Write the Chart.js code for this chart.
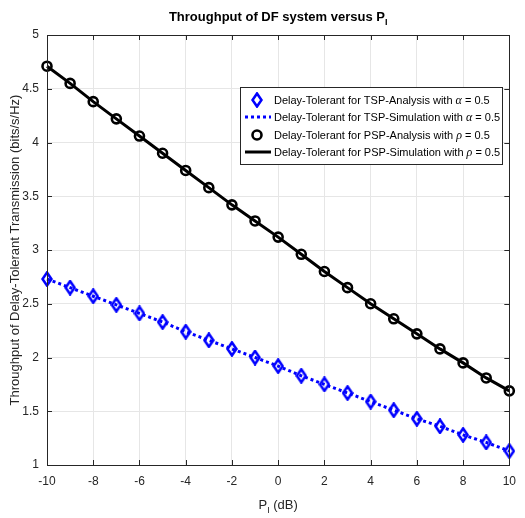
<!DOCTYPE html>
<html>
<head>
<meta charset="utf-8">
<script src="https://cdn.jsdelivr.net/npm/chart.js@4.4.1/dist/chart.umd.min.js"></script>
<style>
  html, body { margin: 0; padding: 0; background: #fff; }
  canvas { display: block; }
</style>
</head>
<body>
<canvas id="myChart" width="525" height="518"></canvas>
<script>
// P_I in dB
const powerDb = [-10, -9, -8, -7, -6, -5, -4, -3, -2, -1, 0, 1, 2, 3, 4, 5, 6, 7, 8, 9, 10];
// throughput (bits/s/Hz)
const tspValues = [2.73, 2.65, 2.57, 2.49, 2.41, 2.33, 2.24, 2.16, 2.08, 2.00, 1.92, 1.83, 1.75, 1.67, 1.59, 1.51, 1.43, 1.36, 1.28, 1.21, 1.13];
const pspValues = [4.71, 4.55, 4.38, 4.22, 4.06, 3.90, 3.74, 3.58, 3.42, 3.27, 3.12, 2.96, 2.80, 2.65, 2.50, 2.36, 2.22, 2.08, 1.95, 1.81, 1.69];
const xTicks = [-10, -8, -6, -4, -2, 0, 2, 4, 6, 8, 10];
const yTicks = [1, 1.5, 2, 2.5, 3, 3.5, 4, 4.5, 5];
const legendLabels = [
  ['Delay-Tolerant for TSP-Analysis with ', '\u03b1', ' = 0.5'],
  ['Delay-Tolerant for TSP-Simulation with ', '\u03b1', ' = 0.5'],
  ['Delay-Tolerant for PSP-Analysis with ', '\u03c1', ' = 0.5'],
  ['Delay-Tolerant for PSP-Simulation with ', '\u03c1', ' = 0.5']
];

const axisColor = '#262626';
const blue = '#0000ff';
const sans = 'Liberation Sans, Arial, sans-serif';

// tall diamond marker like matlab's 'd'
function makeDiamond() {
  const c = document.createElement('canvas');
  c.width = 12; c.height = 16;
  const g = c.getContext('2d');
  g.strokeStyle = blue;
  g.lineWidth = 2.6;
  g.beginPath();
  g.moveTo(6, 1.5); g.lineTo(10.5, 8); g.lineTo(6, 14.5); g.lineTo(1.5, 8);
  g.closePath();
  g.stroke();
  return c;
}
const diamondImg = makeDiamond();

const pts = vals => powerDb.map((p, i) => ({ x: p, y: vals[i] }));

// text pieces with subscript, centered on cx
function drawPieces(ctx, pieces, cx, y, align) {
  let w = 0;
  pieces.forEach(p => { ctx.font = p.font; w += ctx.measureText(p.text).width; });
  let x = align === 'left' ? cx : cx - w / 2;
  ctx.textAlign = 'left';
  ctx.textBaseline = 'alphabetic';
  pieces.forEach(p => {
    ctx.font = p.font;
    ctx.fillText(p.text, x, y + (p.dy || 0));
    x += ctx.measureText(p.text).width;
  });
}

const matlabFrame = {
  id: 'matlabFrame',
  afterDraw(chart) {
    const { ctx, chartArea: a, scales: { x, y } } = chart;
    ctx.save();
    ctx.strokeStyle = axisColor;
    ctx.lineWidth = 1;
    ctx.strokeRect(Math.round(a.left) + 0.5, Math.round(a.top) + 0.5,
      Math.round(a.right - a.left), Math.round(a.bottom - a.top));
    ctx.beginPath();
    xTicks.forEach(v => {
      const px = Math.round(x.getPixelForValue(v)) + 0.5;
      ctx.moveTo(px, a.bottom); ctx.lineTo(px, a.bottom - 5);
      ctx.moveTo(px, a.top); ctx.lineTo(px, a.top + 5);
    });
    yTicks.forEach(v => {
      const py = Math.round(y.getPixelForValue(v)) + 0.5;
      ctx.moveTo(a.left, py); ctx.lineTo(a.left + 5, py);
      ctx.moveTo(a.right, py); ctx.lineTo(a.right - 5, py);
    });
    ctx.stroke();

    const cx = (a.left + a.right) / 2;
    ctx.fillStyle = '#000';
    drawPieces(ctx, [
      { text: 'Throughput of DF system versus P', font: 'bold 13px ' + sans },
      { text: 'I', font: 'bold 9px ' + sans, dy: 4 }
    ], cx, 21);

    ctx.fillStyle = axisColor;
    drawPieces(ctx, [
      { text: 'P', font: '13px ' + sans },
      { text: 'I', font: '9px ' + sans, dy: 4 },
      { text: ' (dB)', font: '13px ' + sans }
    ], cx, 509);

    // legend box
    const lx = 240, ly = 87, lw = 262, lh = 77;
    ctx.fillStyle = '#fff';
    ctx.fillRect(lx, ly, lw, lh);
    ctx.strokeStyle = axisColor;
    ctx.lineWidth = 1;
    ctx.strokeRect(lx + 0.5, ly + 0.5, lw, lh);
    const rows = [100, 117, 135, 152];
    ctx.drawImage(diamondImg, 257 - 6, rows[0] - 8);
    ctx.lineWidth = 3;
    ctx.strokeStyle = blue;
    ctx.setLineDash([3, 3]);
    ctx.beginPath(); ctx.moveTo(245, rows[1]); ctx.lineTo(271, rows[1]); ctx.stroke();
    ctx.setLineDash([]);
    ctx.strokeStyle = '#000';
    ctx.lineWidth = 2.6;
    ctx.beginPath(); ctx.arc(257, rows[2], 4.5, 0, Math.PI * 2); ctx.stroke();
    ctx.lineWidth = 3;
    ctx.beginPath(); ctx.moveTo(245, rows[3]); ctx.lineTo(271, rows[3]); ctx.stroke();
    ctx.fillStyle = '#000';
    legendLabels.forEach((parts, i) => {
      drawPieces(ctx, [
        { text: parts[0], font: '11px ' + sans },
        { text: parts[1], font: 'italic 12px Liberation Serif, serif' },
        { text: parts[2], font: '11px ' + sans }
      ], 274, rows[i] + 4, 'left');
    });
    ctx.restore();
  }
};

new Chart(document.getElementById('myChart'), {
  type: 'line',
  data: {
    datasets: [
      {
        label: 'TSP-Analysis',
        data: pts(tspValues),
        showLine: false,
        pointStyle: diamondImg,
        borderColor: blue,
        backgroundColor: blue,
        clip: 12
      },
      {
        label: 'TSP-Simulation',
        data: pts(tspValues),
        borderColor: blue,
        borderWidth: 3,
        borderDash: [3, 3],
        pointRadius: 0,
        clip: 12
      },
      {
        label: 'PSP-Analysis',
        data: pts(pspValues),
        showLine: false,
        pointStyle: 'circle',
        pointRadius: 4.5,
        pointBorderWidth: 2.6,
        borderColor: '#000',
        backgroundColor: 'rgba(0,0,0,0)',
        clip: 12
      },
      {
        label: 'PSP-Simulation',
        data: pts(pspValues),
        borderColor: '#000',
        borderWidth: 3,
        pointRadius: 0,
        clip: 12
      }
    ]
  },
  options: {
    responsive: false,
    animation: false,
    layout: { padding: { top: 35, right: 10, left: 0, bottom: 0 } },
    plugins: { legend: { display: false }, tooltip: { enabled: false } },
    scales: {
      x: {
        type: 'linear',
        min: -10, max: 10,
        afterFit: s => { s.height = 53; },
        afterBuildTicks: s => { s.ticks = xTicks.map(v => ({ value: v })); },
        grid: { color: '#e6e6e6', drawTicks: false },
        border: { display: false },
        ticks: { color: axisColor, padding: 9, font: { family: sans, size: 12 }, maxRotation: 0,
          callback: v => String(v) }
      },
      y: {
        min: 1, max: 5,
        afterFit: s => { s.width = 47; },
        afterBuildTicks: s => { s.ticks = yTicks.map(v => ({ value: v })); },
        grid: { color: '#e6e6e6', drawTicks: false },
        border: { display: false },
        ticks: { color: axisColor, padding: 8, font: { family: sans, size: 12 },
          callback: v => String(v) },
        title: {
          display: true,
          text: 'Throughput of Delay-Tolerant Transmission (bits/s/Hz)',
          color: axisColor,
          font: { family: sans, size: 13 },
          padding: { top: 8, bottom: 0 }
        }
      }
    }
  },
  plugins: [matlabFrame]
});
</script>
</body>
</html>
